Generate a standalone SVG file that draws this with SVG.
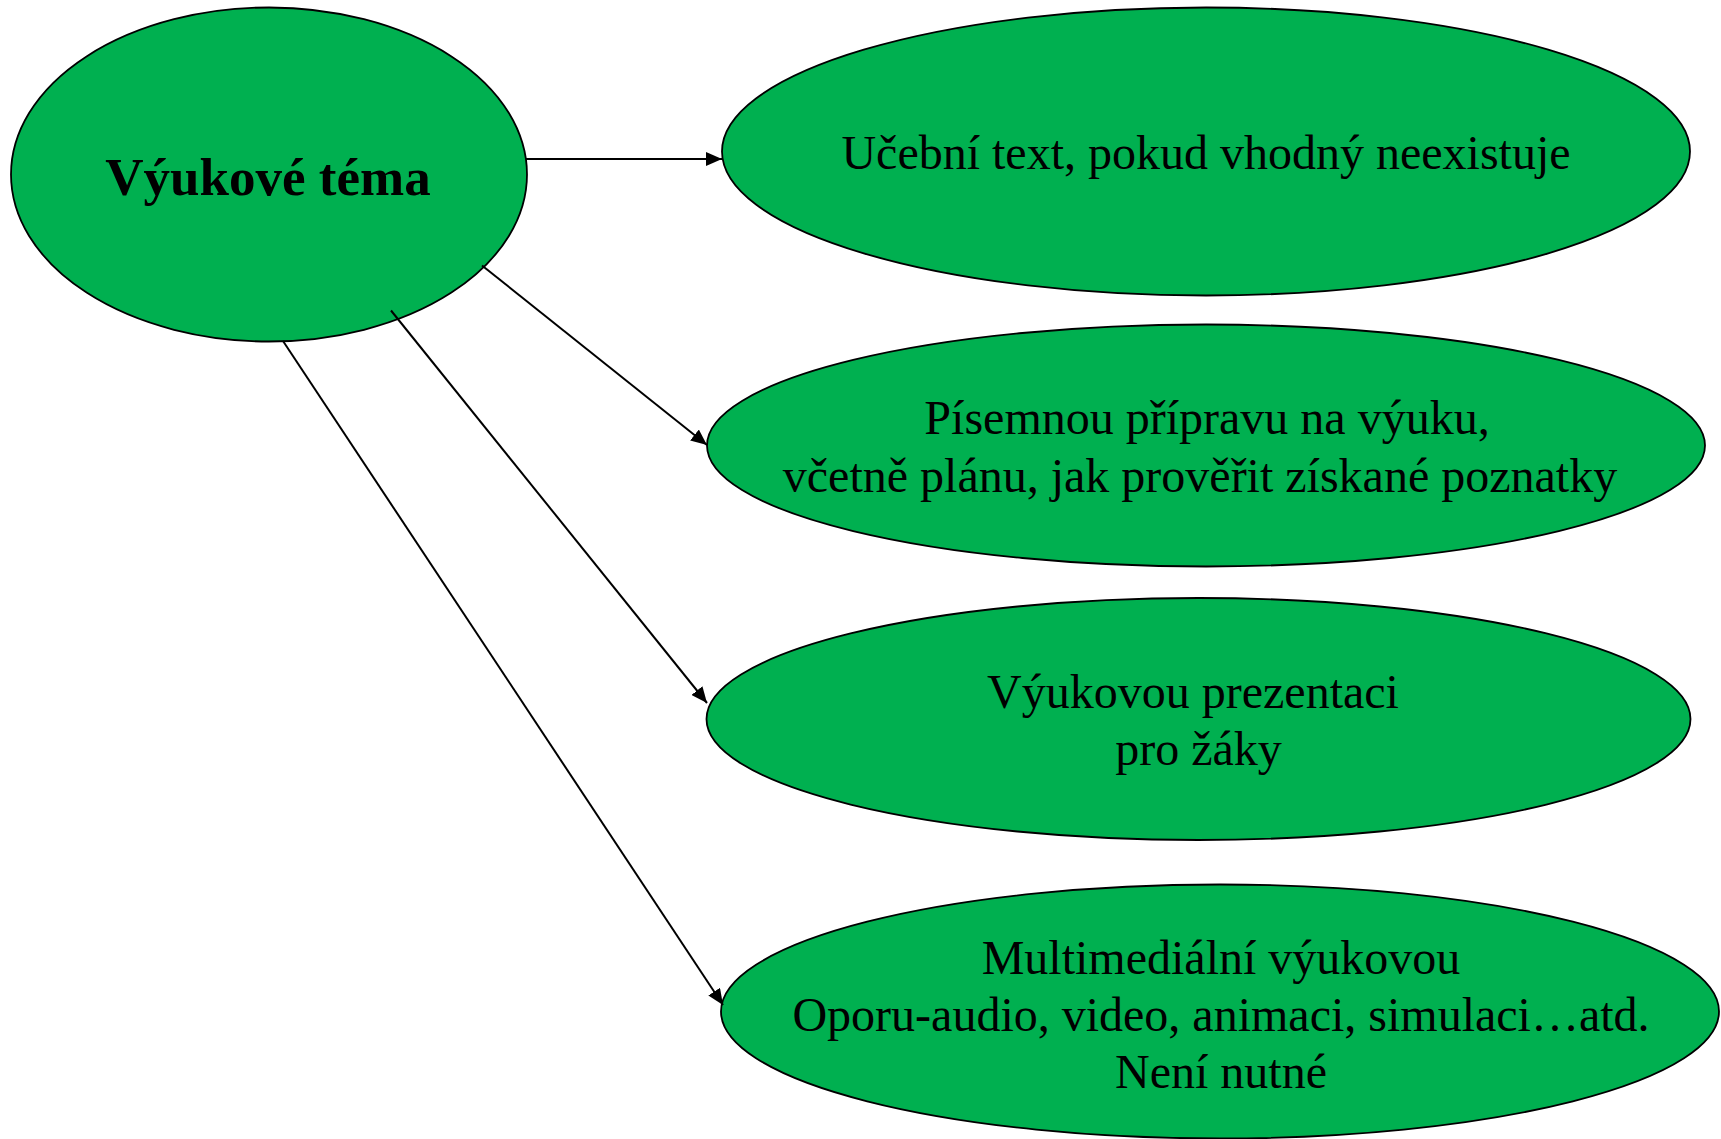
<svg xmlns="http://www.w3.org/2000/svg" width="1721" height="1139" viewBox="0 0 1721 1139">
<style>
.node{fill:#00B050;stroke:#000;stroke-width:1.8}
.lbl{font-family:"Liberation Serif","Times New Roman",serif;font-size:48px;fill:#000;text-anchor:middle}
.ttl{font-family:"Liberation Serif","Times New Roman",serif;font-size:53px;font-weight:bold;fill:#000;text-anchor:middle}
.conn{stroke:#000;stroke-width:2;fill:none;marker-end:url(#arr)}
</style>
<defs>
<marker id="arr" markerUnits="userSpaceOnUse" markerWidth="17" markerHeight="14" refX="16" refY="7" orient="auto">
<path d="M0,0 L16,7 L0,14 Z" fill="#000"/>
</marker>
</defs>
<rect width="1721" height="1139" fill="#fff"/>
<g id="node-tema">
<ellipse class="node" cx="269" cy="174.5" rx="258" ry="167"/>
<text class="ttl" x="268" y="195">Výukové téma</text>
</g>
<g id="node-ucebni-text">
<ellipse class="node" cx="1206" cy="151.5" rx="484" ry="144"/>
<text class="lbl" x="1206" y="169">Učební text, pokud vhodný neexistuje</text>
</g>
<g id="node-pisemna-priprava">
<ellipse class="node" cx="1206" cy="445.5" rx="499" ry="121"/>
<text class="lbl" x="1207" y="434">Písemnou přípravu na výuku,</text>
<text class="lbl" x="1200" y="492">včetně plánu, jak prověřit získané poznatky</text>
</g>
<g id="node-prezentace">
<ellipse class="node" cx="1198.5" cy="719" rx="492" ry="121"/>
<text class="lbl" x="1193" y="707.5">Výukovou prezentaci</text>
<text class="lbl" x="1198.5" y="764.5">pro žáky</text>
</g>
<g id="node-multimedia">
<ellipse class="node" cx="1220" cy="1011.5" rx="499" ry="127"/>
<text class="lbl" x="1221" y="973.5">Multimediální výukovou</text>
<text class="lbl" x="1221" y="1031">Oporu-audio, video, animaci, simulaci…atd.</text>
<text class="lbl" x="1221" y="1088">Není nutné</text>
</g>
<g id="connectors">
<line class="conn" x1="526" y1="159" x2="722" y2="159"/>
<line class="conn" x1="482" y1="265.5" x2="707" y2="445"/>
<line class="conn" x1="391" y1="310.5" x2="707" y2="703"/>
<line class="conn" x1="283" y1="341" x2="723" y2="1005"/>
</g>
</svg>
